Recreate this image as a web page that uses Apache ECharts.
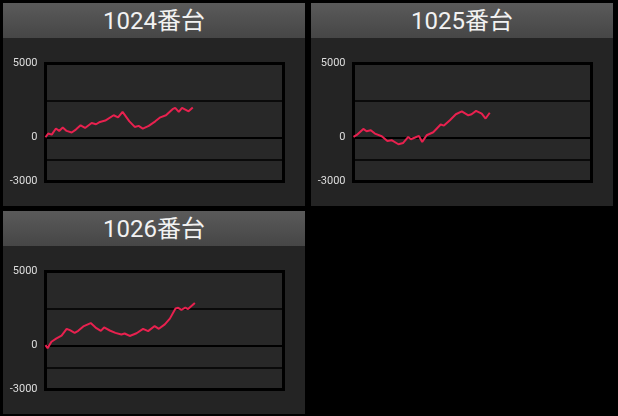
<!DOCTYPE html>
<html>
<head>
<meta charset="utf-8">
<script src="https://cdn.jsdelivr.net/npm/echarts@6/dist/echarts.min.js"></script>
<style>
html,body{margin:0;padding:0;background:#000;width:618px;height:416px;overflow:hidden;}
.panel{position:absolute;width:302px;height:203px;background:#242424;}
.head{position:absolute;left:0;top:0;width:302px;height:35px;
  background:linear-gradient(#5a5a5a,#464646);color:#f2f2f2;text-align:center;
  font-family:Roboto,"Noto Sans CJK JP",sans-serif;font-size:24px;line-height:37px;}
.chart{position:absolute;left:0;top:0;width:302px;height:203px;}
</style>
</head>
<body>
<div class="panel" style="left:3px;top:3px"><div class="chart" id="c1"></div><div class="head">1024番台</div></div>
<div class="panel" style="left:311px;top:3px"><div class="chart" id="c2"></div><div class="head">1025番台</div></div>
<div class="panel" style="left:3px;top:211px"><div class="chart" id="c3"></div><div class="head">1026番台</div></div>
<script>
// 台番号
var titles=['1024番台','1025番台','1026番台'];
// 縦軸
var yTicks=[-3000,0,5000];
var gridLines=[2500,0,-1500];
// ゲーム数 / 差枚
var games1024=[0,90,210,350,460,580,710,880,1020,1180,1330,1550,1700,1830,1870,2010,2290,2440,2590,2820,3000,3130,3270,3470,3690,3860,4050,4270,4360,4480,4590,4810,4950];
var diff1024=[0,250,180,590,430,660,430,320,520,810,630,970,880,1040,1150,1130,1490,1350,1720,1080,700,770,590,770,1080,1350,1490,1900,1990,1720,1990,1760,2010];
var games1025=[0,110,330,440,580,720,950,1140,1280,1510,1670,1840,1930,2070,2200,2310,2460,2680,2930,3040,3240,3440,3640,3860,3970,4120,4310,4440,4580];
var diff1025=[20,160,565,410,475,250,70,-250,-200,-475,-385,20,-135,-20,90,-315,135,340,860,790,1150,1560,1760,1490,1560,1785,1600,1270,1660];
var games1026=[0,70,200,370,540,710,820,980,1100,1270,1520,1710,1860,1970,2160,2350,2550,2660,2830,3060,3280,3450,3670,3810,4010,4180,4370,4460,4570,4700,4790,5020];
var diff1026=[10,-195,240,470,655,1115,1020,840,975,1275,1505,1160,975,1205,1000,840,725,795,630,815,1115,955,1300,1115,1415,1805,2495,2540,2400,2560,2450,2870];

function makePairs(g,d){
  var arr=[];
  for(var i=0;i<g.length;i++){arr.push([g[i],d[i]]);}
  return arr;
}

function drawSlump(el,g,d){
  var chart=echarts.init(document.getElementById(el));
  var lines=[];
  for(var i=0;i<gridLines.length;i++){
    lines.push({yAxis:gridLines[i],lineStyle:{width:gridLines[i]==0?2:1.5}});
  }
  chart.setOption({
    animation:false,
    grid:{left:42.5,top:60.5,width:238,height:118,show:true,
      backgroundColor:'#282828',borderColor:'#000',borderWidth:3},
    xAxis:{type:'value',min:0,max:8000,show:false},
    yAxis:{type:'value',min:-3000,max:5000,
      axisLine:{show:false},axisTick:{show:false},splitLine:{show:false},
      axisLabel:{customValues:yTicks,color:'#dedede',fontSize:11,margin:8,
        fontFamily:'Roboto',formatter:function(v){return String(v);}}},
    series:[
      {type:'line',data:[],silent:true,z:1,
        markLine:{silent:true,symbol:'none',label:{show:false},
          lineStyle:{color:'#000',type:'solid'},data:lines}},
      {type:'line',data:makePairs(g,d),showSymbol:false,z:5,
        lineStyle:{color:'#e8214f',width:2},itemStyle:{color:'#e8214f'}}
    ]
  });
}

drawSlump('c1',games1024,diff1024);
drawSlump('c2',games1025,diff1025);
drawSlump('c3',games1026,diff1026);
</script>
</body>
</html>
